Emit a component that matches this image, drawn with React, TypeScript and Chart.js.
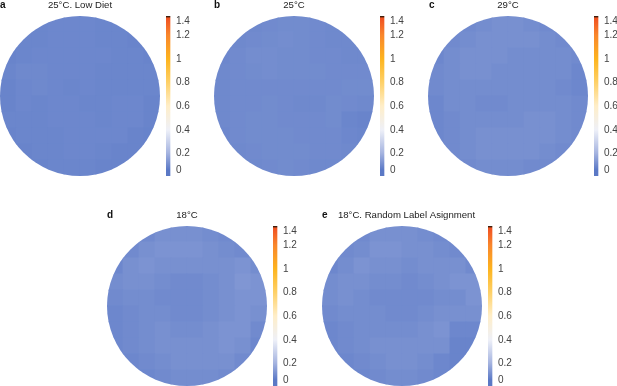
import React, { useEffect, useRef } from "react";
import { Chart, registerables } from "chart.js";

Chart.register(...registerables);

type Cell = number | null;
const _ = null;

// Regional mean values estimated by eye from each disc (top row first), on a coarse 10x10 grid.
// The single-pixel speckle of the reference cannot be read, so it is deliberately not reproduced.
const gridA: Cell[][] = [
  [_, _, .045, .05, .05, .05, .045, .045, _, _],
  [_, .045, .045, .05, .05, .05, .045, .045, .04, _],
  [.04, .045, .05, .05, .05, .05, .05, .045, .045, .04],
  [.045, .055, .055, .05, .05, .05, .045, .045, .045, .045],
  [.04, .05, .055, .05, .045, .05, .045, .045, .045, .045],
  [.04, .05, .045, .05, .05, .045, .045, .05, .05, .04],
  [.045, .045, .045, .05, .05, .05, .045, .05, .05, .04],
  [.04, .045, .045, .045, .05, .05, .05, .05, .04, .035],
  [_, .04, .045, .045, .05, .05, .045, .04, .04, _],
  [_, _, .04, .045, .045, .045, .04, .04, _, _],
];
const gridB: Cell[][] = [
  [_, _, .055, .06, .065, .065, .06, .055, _, _],
  [_, .055, .06, .065, .07, .065, .06, .055, .055, _],
  [.05, .06, .07, .07, .065, .065, .06, .06, .055, .055],
  [.055, .06, .065, .07, .065, .065, .065, .06, .06, .06],
  [.055, .06, .06, .06, .06, .06, .06, .06, .065, .065],
  [.055, .06, .06, .065, .06, .055, .055, .065, .06, .055],
  [.055, .06, .065, .065, .06, .06, .06, .065, .045, .04],
  [.05, .06, .065, .065, .065, .06, .06, .06, .05, .045],
  [_, .055, .06, .065, .065, .065, .06, .06, .055, _],
  [_, _, .055, .06, .065, .06, .055, .055, _, _],
];
const gridC: Cell[][] = [
  [_, _, .06, .07, .08, .08, .07, .06, _, _],
  [_, .06, .07, .08, .08, .08, .08, .07, .06, _],
  [.05, .07, .08, .08, .08, .07, .07, .07, .07, .06],
  [.06, .07, .08, .08, .07, .07, .07, .07, .07, .05],
  [.06, .07, .07, .07, .07, .07, .07, .07, .06, .05],
  [.05, .07, .07, .06, .06, .07, .07, .07, .07, .06],
  [.05, .06, .07, .07, .07, .07, .08, .08, .07, .06],
  [.05, .06, .07, .08, .08, .08, .08, .08, .07, .06],
  [_, .06, .07, .08, .08, .08, .08, .07, .06, _],
  [_, _, .06, .07, .07, .07, .06, .06, _, _],
];
const gridD: Cell[][] = [
  [_, _, .06, .08, .08, .08, .07, .06, _, _],
  [_, .06, .08, .09, .09, .09, .08, .07, .06, _],
  [.05, .08, .09, .08, .08, .08, .08, .08, .09, .07],
  [.07, .08, .08, .07, .06, .06, .07, .08, .10, .09],
  [.06, .07, .07, .06, .06, .06, .07, .08, .09, .09],
  [.05, .06, .07, .07, .06, .06, .07, .08, .09, .08],
  [.05, .06, .07, .08, .07, .07, .08, .09, .09, .06],
  [.05, .06, .07, .08, .08, .08, .08, .09, .08, .05],
  [_, .05, .06, .07, .08, .08, .08, .08, .06, _],
  [_, _, .05, .06, .07, .07, .07, .06, _, _],
];
const gridE: Cell[][] = [
  [_, _, .06, .08, .08, .08, .07, .06, _, _],
  [_, .06, .07, .09, .09, .08, .08, .07, .06, _],
  [.05, .07, .09, .08, .08, .07, .08, .08, .08, .06],
  [.07, .08, .08, .07, .07, .06, .07, .08, .09, .09],
  [.07, .08, .07, .06, .06, .06, .06, .07, .07, .09],
  [.06, .07, .07, .07, .06, .06, .07, .08, .08, .08],
  [.05, .06, .07, .07, .07, .07, .08, .09, .05, .05],
  [.05, .06, .07, .08, .08, .08, .08, .08, .04, .04],
  [_, .05, .06, .07, .08, .08, .07, .05, .04, _],
  [_, _, .05, .06, .07, .07, .06, .05, _, _],
];

const panelLetters = ["a", "b", "c", "d", "e"];
const panelTitles = ["25°C. Low Diet", "25°C", "29°C", "18°C", "18°C. Random Label Asignment"];
const panelGrids = [gridA, gridB, gridC, gridD, gridE];

const tickLabels = ["0", "0.2", "0.4", "0.6", "0.8", "1", "1.2", "1.4"];
const tickValues = [0, 0.2, 0.4, 0.6, 0.8, 1, 1.2, 1.4];
const tickColors = ["#5a78c6", "#a5b4e0", "#eef0f8", "#ffeec8", "#fed066", "#fdb41e", "#f9862c", "#f25a24"];
// The legend's axis is not linear: where each tick sits, in px up from the bar's foot.
const tickStations = [6, 23, 46, 70, 94, 117, 141, 155];

const layouts = [
  { discLeft: 0, top: 16, titleCx: 80, letterX: 0, barLeft: 166 },
  { discLeft: 214, top: 16, titleCx: 294, letterX: 214, barLeft: 380 },
  { discLeft: 428, top: 16, titleCx: 508, letterX: 429, barLeft: 594 },
  { discLeft: 107, top: 226, titleCx: 187, letterX: 107, barLeft: 273 },
  { discLeft: 322, top: 226, titleCx: 406.5, letterX: 322, barLeft: 488 },
];

const DISC = 160;
const BAR_W = 8;
const AXIS_W = 28;
const TITLE_H = 17;
const FONT = "'Liberation Sans', Arial, sans-serif";

function hex(c: string) {
  return [1, 3, 5].map((i) => parseInt(c.slice(i, i + 2), 16));
}
function colorOf(v: number) {
  let i = 0;
  while (i < tickValues.length - 2 && v > tickValues[i + 1]) i++;
  const t = Math.max(0, Math.min(1, (v - tickValues[i]) / (tickValues[i + 1] - tickValues[i])));
  const a = hex(tickColors[i]);
  const b = hex(tickColors[i + 1]);
  return `rgb(${a.map((x, k) => Math.round(x + (b[k] - x) * t)).join(",")})`;
}

const discClip = {
  id: "discClip",
  beforeDatasetsDraw(chart: any) {
    const { ctx, scales } = chart;
    const cx = scales.x.getPixelForValue(0);
    const cy = scales.y.getPixelForValue(0);
    const r = scales.x.getPixelForValue(1) - cx;
    ctx.save();
    ctx.beginPath();
    ctx.arc(cx, cy, r, 0, Math.PI * 2);
    ctx.clip();
  },
  afterDatasetsDraw(chart: any) {
    chart.ctx.restore();
  },
};

function makeDisc(canvas: HTMLCanvasElement, p: number) {
  const grid = panelGrids[p];
  const n = grid.length;
  const pts: { x: number; y: number; v: number }[] = [];
  grid.forEach((row, r) =>
    row.forEach((v, c) => {
      if (v !== null) pts.push({ x: -1 + (2 * c + 1) / n, y: 1 - (2 * r + 1) / n, v });
    })
  );
  const side = DISC / n;
  const L = layouts[p];
  const half = Math.max(L.titleCx - L.discLeft, L.discLeft + DISC - L.titleCx);
  const width = Math.ceil(half * 2);
  const x0 = L.titleCx - width / 2;
  const extraLeft = L.discLeft - x0;
  const extraRight = x0 + width - L.discLeft - DISC;
  canvas.width = width;
  canvas.height = DISC + TITLE_H;
  canvas.style.left = `${x0}px`;
  canvas.style.top = `${L.top - TITLE_H}px`;
  return new Chart(canvas, {
    type: "scatter",
    data: {
      datasets: [
        {
          data: pts as any,
          pointStyle: "rect",
          pointRadius: side / Math.SQRT2 + 0.6,
          pointBorderWidth: 0,
          backgroundColor: (ctx: any) => colorOf(ctx.raw ? ctx.raw.v : 0),
          clip: false,
        },
      ],
    },
    options: {
      responsive: false,
      animation: false,
      events: [],
      layout: { padding: 0, autoPadding: false },
      scales: {
        x: {
          type: "linear",
          min: -1 - (2 * extraLeft) / DISC,
          max: 1 + (2 * extraRight) / DISC,
          display: false,
        },
        y: { type: "linear", min: -1, max: 1, display: false },
      },
      plugins: {
        legend: { display: false },
        tooltip: { enabled: false },
        title: {
          display: true,
          text: panelTitles[p],
          color: "#222",
          font: { family: FONT, size: 9.6, weight: "normal", lineHeight: 1.25 },
          padding: { top: 0, bottom: 5 },
        },
      },
    },
    plugins: [discClip],
  } as any);
}

function makeBar(canvas: HTMLCanvasElement, p: number) {
  const L = layouts[p];
  canvas.width = BAR_W + AXIS_W;
  canvas.height = DISC;
  canvas.style.left = `${L.barLeft}px`;
  canvas.style.top = `${L.top}px`;
  const paint = (ctx: any) => {
    const { chart } = ctx;
    const area = chart.chartArea;
    if (!area) return tickColors[0];
    const y = chart.scales.y;
    const g = chart.ctx.createLinearGradient(0, area.bottom, 0, area.top);
    const at = (s: number) => (y.getPixelForValue(s) - area.bottom) / (area.top - area.bottom);
    g.addColorStop(0, "#5b78c4");
    tickStations.forEach((s, i) => g.addColorStop(at(s), tickColors[i]));
    g.addColorStop(at(158), "#ee5020");
    g.addColorStop(at(159), "#5a2a10");
    g.addColorStop(1, "#2a1208");
    return g;
  };
  return new Chart(canvas, {
    type: "bar",
    data: {
      labels: [""],
      datasets: [{ data: [[0, DISC]] as any, backgroundColor: paint, barPercentage: 1, categoryPercentage: 1, borderWidth: 0 }],
    },
    options: {
      responsive: false,
      animation: false,
      events: [],
      layout: { padding: 0, autoPadding: false },
      scales: {
        x: { display: false, offset: false },
        y: {
          type: "linear",
          position: "right",
          min: 0,
          max: DISC,
          border: { display: false },
          grid: { display: false, drawTicks: false },
          afterBuildTicks: (s: any) => {
            s.ticks = tickStations.map((value) => ({ value }));
          },
          afterFit: (s: any) => {
            s.width = AXIS_W;
            s.paddingTop = 0;
            s.paddingBottom = 0;
          },
          ticks: {
            autoSkip: false,
            padding: 2,
            color: "#444",
            font: { family: FONT, size: 10 },
            callback: (v: any) => tickLabels[tickStations.indexOf(v)],
          },
        },
      },
      plugins: { legend: { display: false }, tooltip: { enabled: false } },
    },
  } as any);
}

export default function App() {
  const host = useRef<HTMLDivElement>(null);
  useEffect(() => {
    document.body.style.margin = "0";
    const charts: Chart[] = [];
    const discs = host.current!.querySelectorAll<HTMLCanvasElement>("canvas[data-disc]");
    const bars = host.current!.querySelectorAll<HTMLCanvasElement>("canvas[data-bar]");
    discs.forEach((c, i) => charts.push(makeDisc(c, i)));
    bars.forEach((c, i) => charts.push(makeBar(c, i)));
    return () => charts.forEach((c) => c.destroy());
  }, []);
  return (
    <div ref={host} style={{ position: "relative", width: 617, height: 386, overflow: "hidden", background: "#fff" }}>
      {panelLetters.map((l, i) => (
        <React.Fragment key={l}>
          <canvas data-disc="1" style={{ position: "absolute" }} />
          <canvas data-bar="1" style={{ position: "absolute" }} />
          <div
            style={{
              position: "absolute",
              left: layouts[i].letterX,
              top: layouts[i].top - 17,
              font: `bold 10px ${FONT}`,
              lineHeight: "12px",
              color: "#111",
            }}
          >
            {l}
          </div>
        </React.Fragment>
      ))}
    </div>
  );
}
